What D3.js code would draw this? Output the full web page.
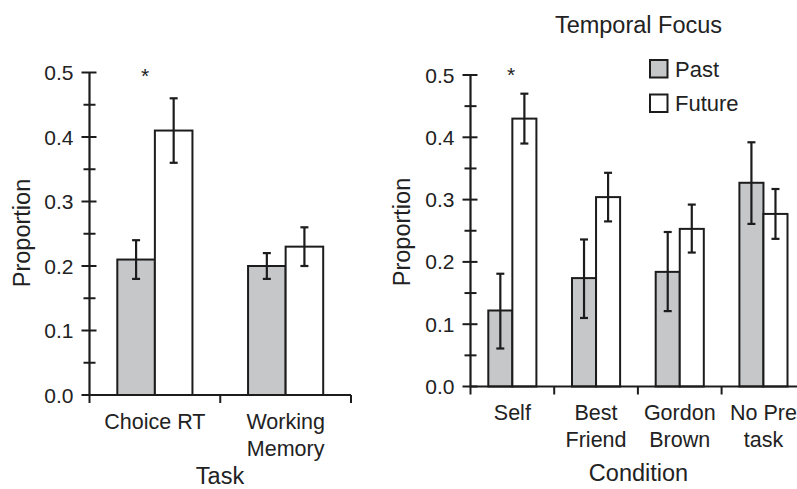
<!DOCTYPE html>
<html>
<head>
<meta charset="utf-8">
<script src="https://cdn.jsdelivr.net/npm/d3@7"></script>
<style>
  body { margin: 0; background: #fff; }
  svg { display: block; }
  text { font-family: "Liberation Sans", Arial, sans-serif; fill: #222; }
</style>
</head>
<body>
<svg id="chart" width="797" height="489"></svg>
<script>
// left panel: task
const taskCats = [["Choice RT"], ["Working", "Memory"]];
const taskPast = [0.21, 0.20];
const taskPastErr = [[0.18, 0.24], [0.18, 0.22]];
const taskFuture = [0.41, 0.23];
const taskFutureErr = [[0.36, 0.46], [0.20, 0.26]];

// right panel: condition
const condCats = [["Self"], ["Best", "Friend"], ["Gordon", "Brown"], ["No Pre", "task"]];
const condPast = [0.122, 0.174, 0.184, 0.327];
const condPastErr = [[0.061, 0.181], [0.110, 0.236], [0.121, 0.248], [0.261, 0.392]];
const condFuture = [0.43, 0.304, 0.253, 0.277];
const condFutureErr = [[0.39, 0.47], [0.265, 0.343], [0.215, 0.292], [0.237, 0.317]];

const series = ["Past", "Future"];
const yTicks = [0, 0.1, 0.2, 0.3, 0.4, 0.5];

const fillFor = { Past: "#c6c7c9", Future: "#ffffff" };
const ink = "#1c1c1c";

const svg = d3.select("#chart");

function panel(opts) {
    let g = svg.append("g");

    let x = d3.scaleBand()
        .domain(d3.range(opts.cats.length))
        .range(opts.xRange)
        .padding(0);

    let xs = d3.scaleBand()
        .domain(series)
        .range([0, x.bandwidth()])
        .paddingInner(0)
        .paddingOuter(0.74);

    let y = d3.scaleLinear().domain([0, 0.5]).range(opts.yRange);

    let rows = [];
    opts.cats.forEach((c, i) => {
        rows.push({ i: i, s: "Past", v: opts.past[i], e: opts.pastErr[i] });
        rows.push({ i: i, s: "Future", v: opts.future[i], e: opts.futureErr[i] });
    });

    // bars
    g.selectAll(".bar").data(rows).enter().append("rect")
        .attr("class", "bar")
        .attr("x", d => x(d.i) + xs(d.s))
        .attr("y", d => y(d.v))
        .attr("width", xs.bandwidth())
        .attr("height", d => y(0) - y(d.v))
        .style("fill", d => fillFor[d.s])
        .style("stroke", ink)
        .style("stroke-width", 2);

    // error bars
    let eb = g.selectAll(".err").data(rows).enter().append("g").attr("class", "err")
        .attr("transform", d => `translate(${x(d.i) + xs(d.s) + xs.bandwidth() / 2},0)`)
        .style("stroke", ink)
        .style("stroke-width", 2.2);
    eb.append("line").attr("y1", d => y(d.e[0])).attr("y2", d => y(d.e[1]));
    eb.append("line").attr("x1", -4).attr("x2", 4).attr("y1", d => y(d.e[0])).attr("y2", d => y(d.e[0]));
    eb.append("line").attr("x1", -4).attr("x2", 4).attr("y1", d => y(d.e[1])).attr("y2", d => y(d.e[1]));

    let x0 = opts.xRange[0];

    // x axis line + group boundary ticks
    g.append("line")
        .attr("x1", x0).attr("x2", opts.xRange[1])
        .attr("y1", y(0)).attr("y2", y(0))
        .style("stroke", ink).style("stroke-width", 2.2);

    let bounds = d3.range(opts.cats.length + 1).map(i => i < opts.cats.length ? x(i) : opts.xRange[1]);
    g.selectAll(".xt").data(bounds).enter().append("line")
        .attr("x1", d => d).attr("x2", d => d)
        .attr("y1", y(0)).attr("y2", y(0) + 8)
        .style("stroke", ink).style("stroke-width", 2);

    // y axis
    g.append("line")
        .attr("x1", x0).attr("x2", x0)
        .attr("y1", y(0.5)).attr("y2", y(0))
        .style("stroke", ink).style("stroke-width", 2.2);

    let minor = y.ticks(10);
    g.selectAll(".yt").data(minor).enter().append("line")
        .attr("x1", d => yTicks.some(t => Math.abs(t - d) < 1e-6) ? x0 - 8 : x0 - 6)
        .attr("x2", d => yTicks.some(t => Math.abs(t - d) < 1e-6) ? x0 + 7 : x0 + 6)
        .attr("y1", d => y(d)).attr("y2", d => y(d))
        .style("stroke", ink).style("stroke-width", 2);

    g.selectAll(".yl").data(yTicks).enter().append("text")
        .attr("x", x0 - 16)
        .attr("y", d => y(d))
        .attr("dy", "0.36em")
        .attr("text-anchor", "end")
        .style("font-size", "21px")
        .text(d3.format(".1f"));

    // category labels
    let cl = g.selectAll(".cl").data(opts.cats).enter().append("text")
        .attr("text-anchor", "middle")
        .style("font-size", "21.5px")
        .attr("transform", (d, i) => `translate(${x(i) + x.bandwidth() / 2},${y(0) + 26})`);
    cl.selectAll("tspan").data(d => d).enter().append("tspan")
        .attr("x", 0)
        .attr("y", (d, j) => j * 27)
        .attr("dy", "0.36em")
        .text(d => d);

    // axis titles
    g.append("text")
        .attr("x", opts.xTitle[0]).attr("y", opts.xTitle[1])
        .attr("dy", "0.36em")
        .attr("text-anchor", "middle")
        .style("font-size", "23.5px")
        .text(opts.xLabel);

    g.append("text")
        .attr("transform", `translate(${opts.yTitle[0]},${opts.yTitle[1]}) rotate(-90)`)
        .attr("dy", "0.36em")
        .attr("text-anchor", "middle")
        .style("font-size", "23.5px")
        .text("Proportion");

    // significance star over first group
    g.append("text")
        .attr("x", opts.star[0]).attr("y", opts.star[1])
        .attr("dy", "0.7em")
        .attr("text-anchor", "middle")
        .style("font-size", "21px")
        .text("*");
}

panel({
    cats: taskCats, past: taskPast, pastErr: taskPastErr,
    future: taskFuture, futureErr: taskFutureErr,
    xRange: [89.5, 351], yRange: [395, 72.5],
    xLabel: "Task", xTitle: [220, 476], yTitle: [21.5, 233],
    star: [145, 68]
});

panel({
    cats: condCats, past: condPast, pastErr: condPastErr,
    future: condFuture, futureErr: condFutureErr,
    xRange: [470.5, 805.3], yRange: [386.5, 75],
    xLabel: "Condition", xTitle: [638.5, 473], yTitle: [402, 232],
    star: [511, 67]
});

// title + legend
svg.append("text")
    .attr("x", 638.5).attr("y", 25)
    .attr("dy", "0.36em")
    .attr("text-anchor", "middle")
    .style("font-size", "23.5px")
    .text("Temporal Focus");

let leg = svg.selectAll(".leg").data(series).enter().append("g")
    .attr("transform", (d, i) => `translate(650,${60 + i * 34.5})`);
leg.append("rect")
    .attr("width", 17.5).attr("height", 17.5)
    .style("fill", d => fillFor[d])
    .style("stroke", ink).style("stroke-width", 2);
leg.append("text")
    .attr("x", 25).attr("y", 9)
    .attr("dy", "0.36em")
    .style("font-size", "22px")
    .text(d => d);
</script>
</body>
</html>
